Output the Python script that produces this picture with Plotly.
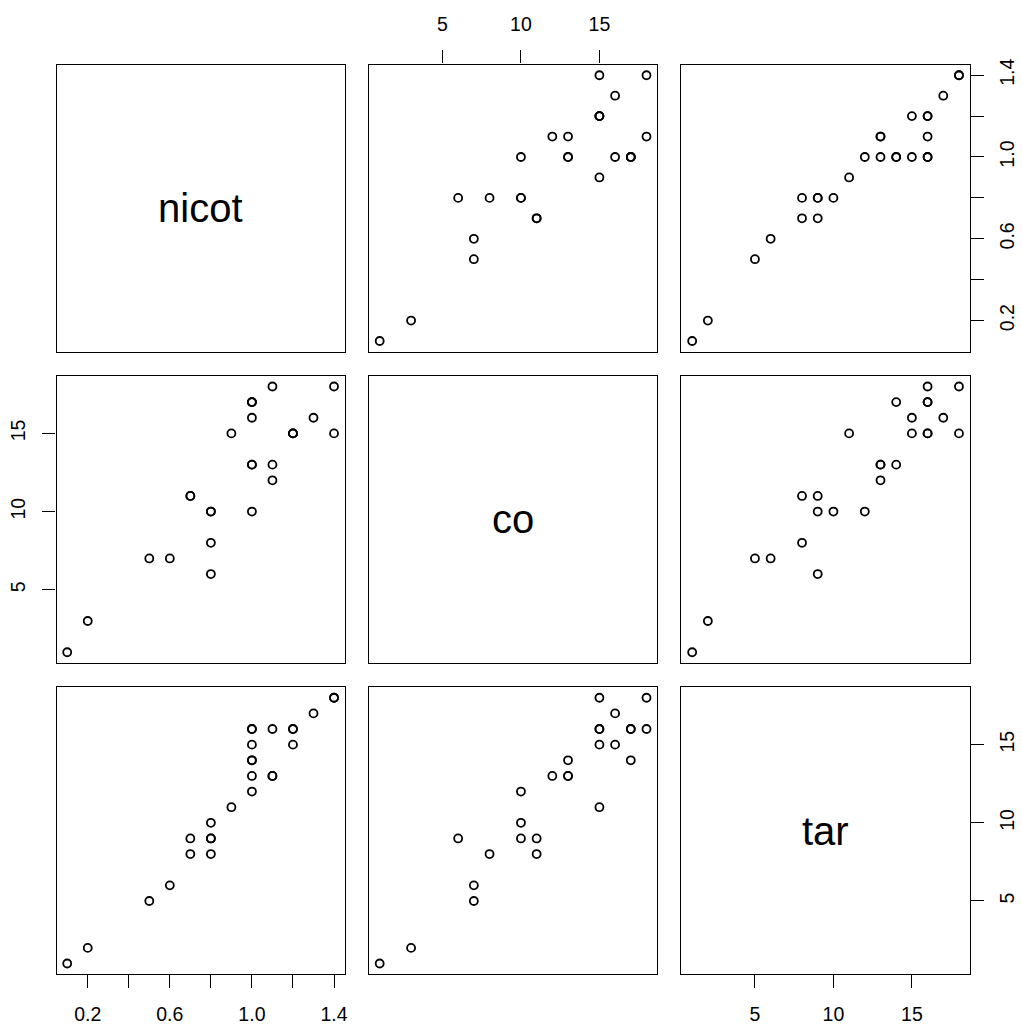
import plotly.graph_objects as go

# Cigarette measurements: nicotine, carbon monoxide and tar per brand
nicot = [0.1, 0.2, 0.5, 0.6, 0.7, 0.8, 0.7, 0.8, 0.8, 0.8, 0.9, 1.0, 1.0, 1.1,
         1.1, 1.0, 1.0, 1.0, 1.2, 1.0, 1.1, 1.2, 1.3, 1.4, 1.4, 1.2, 1.0]
co = [1, 3, 7, 7, 11, 8, 11, 6, 10, 10, 15, 10, 13, 13,
      12, 13, 17, 16, 15, 17, 18, 15, 16, 15, 18, 15, 17]
tar = [1, 2, 5, 6, 8, 8, 9, 9, 9, 10, 11, 12, 13, 13,
       13, 14, 14, 15, 15, 16, 16, 16, 17, 18, 18, 16, 16]

var_names = ["nicot", "co", "tar"]
nicot_ticks = [0.2, 0.4, 0.6, 0.8, 1.0, 1.2, 1.4]
nicot_tick_labels = ["0.2", "", "0.6", "", "1.0", "", "1.4"]
count_ticks = [5, 10, 15]
count_tick_labels = ["5", "10", "15"]

columns = {"nicot": nicot, "co": co, "tar": tar}
ticks = {
    "nicot": (nicot_ticks, nicot_tick_labels),
    "co": (count_ticks, count_tick_labels),
    "tar": (count_ticks, count_tick_labels),
}

W, H = 1022, 1025
LEFT, TOP, SIZE, GAP = 56.7, 59.0, 289.0, 24.4
FONT = "Liberation Sans, Arial, Helvetica, sans-serif"
TICK_FONT = dict(family=FONT, size=19.5, color="black")


def padded(values):
    lo, hi = min(values), max(values)
    d = (hi - lo) * 0.04
    return [lo - d, hi + d]


def tick_style(vals, text, standoff, angle=None):
    style = dict(ticks="outside", ticklen=13, tickwidth=1.4, tickcolor="black",
                 showticklabels=True, tickvals=vals, ticktext=text,
                 tickfont=TICK_FONT, ticklabelstandoff=standoff)
    if angle is not None:
        style["tickangle"] = angle
    return style


fig = go.Figure()
layout = {}
annotations = []

for i, yname in enumerate(var_names):
    for j, xname in enumerate(var_names):
        k = i * 3 + j + 1
        sfx = "" if k == 1 else str(k)
        x0 = LEFT + j * (SIZE + GAP)
        y0 = TOP + i * (SIZE + GAP)
        xdom = [x0 / W, (x0 + SIZE) / W]
        ydom = [1 - (y0 + SIZE) / H, 1 - y0 / H]

        base = dict(
            showgrid=False, zeroline=False, showline=True, mirror=True,
            linecolor="black", linewidth=1.4, ticks="", showticklabels=False,
            fixedrange=True,
        )
        xa = dict(base, domain=xdom, anchor="y" + sfx, range=padded(columns[xname]))
        ya = dict(base, domain=ydom, anchor="x" + sfx, range=padded(columns[yname]))

        # Alternating outer axes, as in a classic scatterplot matrix
        if i == 0 and j % 2 == 1:
            xa.update(side="top", **tick_style(*ticks[xname], standoff=12))
        if i == 2 and j % 2 == 0:
            xa.update(side="bottom", **tick_style(*ticks[xname], standoff=9))
        if j == 0 and i % 2 == 1:
            ya.update(side="left", **tick_style(*ticks[yname], standoff=10, angle=-90))
        if j == 2 and i % 2 == 0:
            ya.update(side="right", **tick_style(*ticks[yname], standoff=7, angle=-90))

        layout["xaxis" + sfx] = xa
        layout["yaxis" + sfx] = ya

        if i == j:
            # Empty trace so the diagonal panel frame is drawn
            fig.add_trace(go.Scatter(
                x=[], y=[], mode="markers", xaxis="x" + sfx, yaxis="y" + sfx,
                showlegend=False, hoverinfo="skip",
            ))
            annotations.append(dict(
                text=xname, x=0.5, y=0.5, xref="x" + sfx + " domain",
                yref="y" + sfx + " domain", showarrow=False,
                font=dict(family=FONT, size=40, color="black"),
            ))
        else:
            fig.add_trace(go.Scatter(
                x=columns[xname], y=columns[yname], mode="markers",
                xaxis="x" + sfx, yaxis="y" + sfx, showlegend=False,
                hoverinfo="skip",
                marker=dict(symbol="circle-open", size=8, color="black",
                            line=dict(width=1.8, color="black")),
            ))

fig.update_layout(
    width=W, height=H, margin=dict(l=0, r=0, t=0, b=0),
    paper_bgcolor="white", plot_bgcolor="white",
    annotations=annotations, showlegend=False, **layout,
)

fig.write_html("out.html", config={"displayModeBar": False})
